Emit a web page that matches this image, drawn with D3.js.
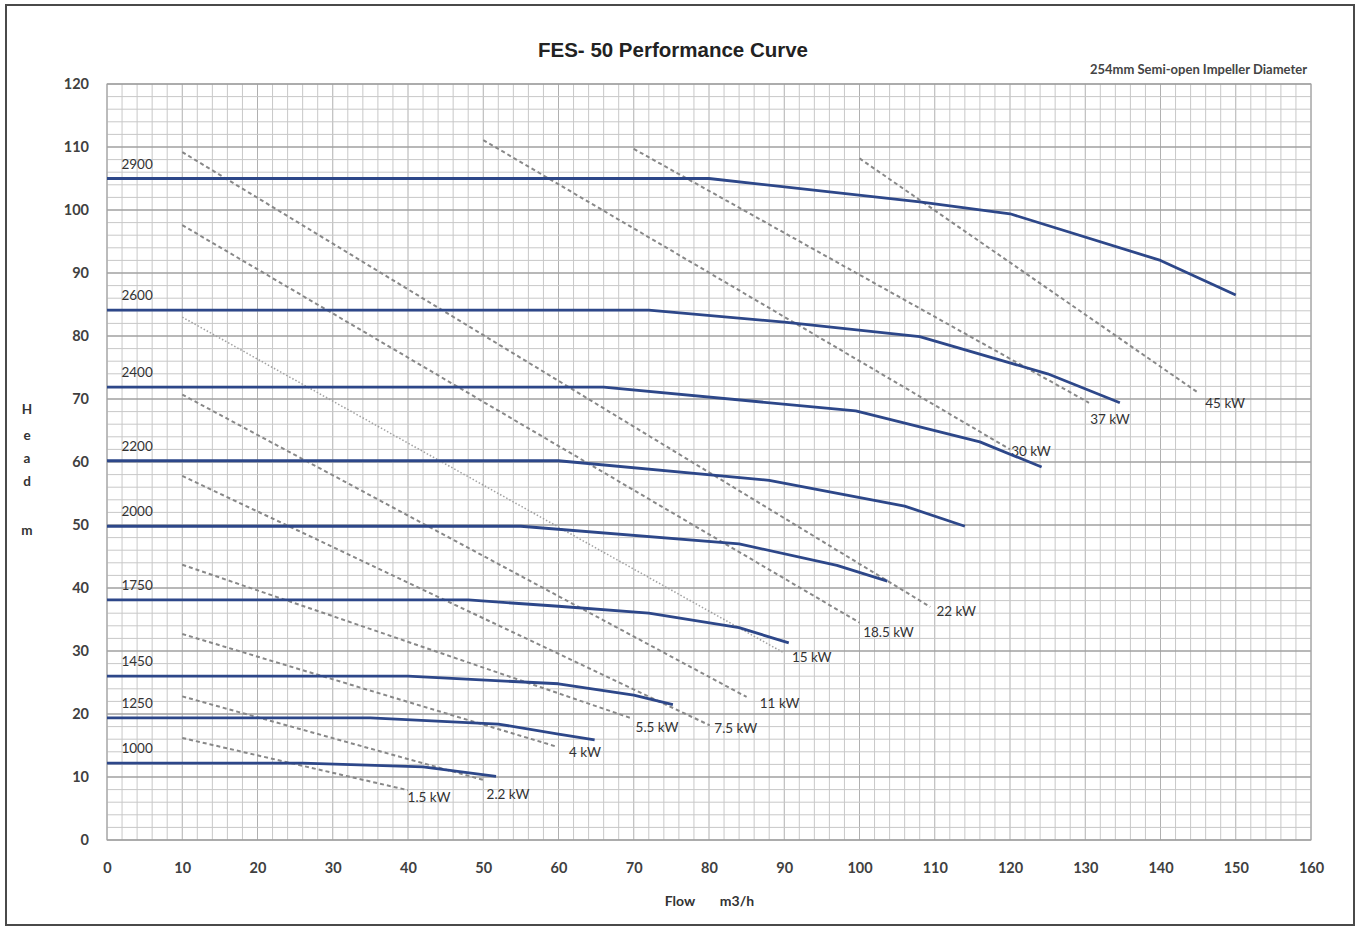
<!DOCTYPE html>
<html>
<head>
<meta charset="utf-8">
<script src="https://cdn.jsdelivr.net/npm/d3@7"></script>
<style>
  body { margin: 0; background: #fff; }
  svg { display: block; }
</style>
</head>
<body>
<svg id="chart"></svg>
<script>
const width = 1361
const height = 928

// speed curves (rpm) : [flow m3/h, head m]
const speeds = ["2900", "2600", "2400", "2200", "2000", "1750", "1450", "1250", "1000"]
const curve2900 = [[0, 105], [80, 105], [108, 101.3], [120, 99.4], [140, 92], [150, 86.5]]
const curve2600 = [[0, 84.1], [72, 84.1], [90, 82.2], [108, 79.9], [125, 74], [134.6, 69.4]]
const curve2400 = [[0, 71.9], [66, 71.9], [99.5, 68.1], [116, 63.2], [124.2, 59.2]]
const curve2200 = [[0, 60.2], [60, 60.2], [88, 57.1], [106, 53], [114, 49.8]]
const curve2000 = [[0, 49.8], [55, 49.8], [84, 47], [97, 43.6], [103.7, 41.1]]
const curve1750 = [[0, 38.1], [48, 38.1], [60, 37.1], [72, 36], [84, 33.7], [90.6, 31.3]]
const curve1450 = [[0, 26], [40, 26], [60, 24.8], [70, 23], [75.2, 21.5]]
const curve1250 = [[0, 19.4], [35, 19.4], [52, 18.4], [60, 16.8], [64.8, 15.9]]
const curve1000 = [[0, 12.2], [26, 12.2], [42, 11.6], [51.7, 10.1]]
const curves = [curve2900, curve2600, curve2400, curve2200, curve2000, curve1750, curve1450, curve1250, curve1000]

// power lines : start and end [flow, head]
const powers = ["1.5 kW", "2.2 kW", "4 kW", "5.5 kW", "7.5 kW", "11 kW", "15 kW", "18.5 kW", "22 kW", "30 kW", "37 kW", "45 kW"]
const powerStart = [[10, 16.2], [10, 22.8], [10, 32.7], [10, 43.7], [10, 57.8], [10, 70.7], [10, 83], [10, 97.6], [10, 109.2], [50, 111.1], [70, 109.7], [100, 108.2]]
const powerEnd = [[40, 7.9], [50.1, 9.5], [59.8, 14.8], [69.5, 19.4], [80.1, 18.2], [85, 22.7], [89.8, 29.8], [100, 34.5], [109.4, 37], [120, 62], [130.5, 69.4], [145, 71]]

const xTicks = d3.range(0, 161, 10)
const yTicks = d3.range(0, 121, 10)

const x = d3.scaleLinear().domain([0, 160]).range([107, 1311])
const y = d3.scaleLinear().domain([0, 120]).range([840, 84])

const svg = d3.select("#chart")
    .attr("width", width)
    .attr("height", height)

// outer frame
svg.append("rect")
    .attr("x", 6).attr("y", 5)
    .attr("width", 1348).attr("height", 920)
    .attr("fill", "#fff")
    .attr("stroke", "#4a4a4a")
    .attr("stroke-width", 2)

// grid: vertical
svg.append("g")
    .selectAll("line")
    .data(d3.range(0, 161, 2))
    .join("line")
        .attr("x1", d => x(d)).attr("x2", d => x(d))
        .attr("y1", y(0)).attr("y2", y(120))
        .attr("stroke", d => d % 10 === 0 ? "#b0b0b0" : "#c8c8c8")
        .attr("stroke-width", 1)

// grid: horizontal
svg.append("g")
    .selectAll("line")
    .data(d3.range(0, 121, 2))
    .join("line")
        .attr("x1", x(0)).attr("x2", x(160))
        .attr("y1", d => y(d)).attr("y2", d => y(d))
        .attr("stroke", d => d % 10 === 0 ? "#a0a0a0" : "#c8c8c8")
        .attr("stroke-width", d => d % 10 === 0 ? 1.5 : 1)

svg.append("rect")
    .attr("x", x(0)).attr("y", y(120))
    .attr("width", x(160) - x(0)).attr("height", y(0) - y(120))
    .attr("fill", "none")
    .attr("stroke", "#a0a0a0")

// axes (labels only)
const xAxis = svg.append("g")
    .attr("transform", `translate(0, ${y(0) + 20})`)
    .call(d3.axisBottom(x).tickValues(xTicks).tickSize(0).tickFormat(d3.format("d")))
xAxis.select(".domain").remove()

const yAxis = svg.append("g")
    .attr("transform", `translate(${x(0) - 15}, 0)`)
    .call(d3.axisLeft(y).tickValues(yTicks).tickSize(0).tickFormat(d3.format("d")))
yAxis.select(".domain").remove()

svg.selectAll(".tick text")
    .style("font-family", "Lato, 'Open Sans', sans-serif")
    .style("font-weight", "700")
    .style("font-size", "14.5px")
    .attr("fill", "#404040")

// power lines
const powerIdx = d3.range(powers.length)
svg.append("g")
    .selectAll("line")
    .data(powerIdx)
    .join("line")
        .attr("x1", i => x(powerStart[i][0]))
        .attr("y1", i => y(powerStart[i][1]))
        .attr("x2", i => x(powerEnd[i][0]))
        .attr("y2", i => y(powerEnd[i][1]))
        .attr("stroke", i => powers[i] === "15 kW" ? "#a0a0a0" : "#888")
        .attr("stroke-width", i => powers[i] === "15 kW" ? 1.5 : 2)
        .attr("stroke-dasharray", i => powers[i] === "15 kW" ? "1.5,2" : "4,3")

// label nudges in px, from the end of each power line
const powerNudge = [[21, 7], [24, 14], [28, 5], [27, 9], [26, 3], [33, 6], [29, 5], [29, 9], [26, 4], [21, 2], [21, 16], [27, 10]]
svg.append("g")
    .selectAll("text")
    .data(powerIdx)
    .join("text")
        .attr("x", i => x(powerEnd[i][0]) + powerNudge[i][0])
        .attr("y", i => y(powerEnd[i][1]) + powerNudge[i][1] + 5)
        .attr("text-anchor", "middle")
        .style("font-family", "Lato, sans-serif")
        .style("font-size", "13.5px")
        .attr("fill", "#333")
        .text(i => powers[i])

// speed curves
const line = d3.line()
    .x(d => x(d[0]))
    .y(d => y(d[1]))

svg.append("g")
    .selectAll("path")
    .data(curves)
    .join("path")
        .attr("d", line)
        .attr("fill", "none")
        .attr("stroke", "#2d4789")
        .attr("stroke-width", 2.8)
        .attr("stroke-linejoin", "round")

svg.append("g")
    .selectAll("text")
    .data(speeds)
    .join("text")
        .attr("x", x(4))
        .attr("y", (d, i) => y(curves[i][0][1]) - 10)
        .attr("text-anchor", "middle")
        .style("font-family", "Lato, sans-serif")
        .style("font-size", "13.5px")
        .attr("fill", "#333")
        .text(d => d)

// titles
svg.append("text")
    .attr("x", 673).attr("y", 57)
    .attr("text-anchor", "middle")
    .style("font-family", "'Liberation Sans', Arial, sans-serif")
    .style("font-weight", "700")
    .style("font-size", "20.5px")
    .attr("fill", "#222")
    .text("FES- 50 Performance Curve")

svg.append("text")
    .attr("x", 1307).attr("y", 74)
    .attr("text-anchor", "end")
    .style("font-family", "Lato, sans-serif")
    .style("font-weight", "700")
    .style("font-size", "13px")
    .attr("fill", "#444")
    .text("254mm Semi-open Impeller Diameter")

svg.append("text")
    .attr("x", 680).attr("y", 906)
    .attr("text-anchor", "middle")
    .style("font-family", "Lato, sans-serif")
    .style("font-weight", "700")
    .style("font-size", "14px")
    .attr("fill", "#333")
    .text("Flow")

svg.append("text")
    .attr("x", 737).attr("y", 906)
    .attr("text-anchor", "middle")
    .style("font-family", "Lato, sans-serif")
    .style("font-weight", "700")
    .style("font-size", "14px")
    .attr("fill", "#333")
    .text("m3/h")

const headLetters = [["H", 414], ["e", 440], ["a", 463], ["d", 486], ["m", 535]]
svg.append("g")
    .selectAll("text")
    .data(headLetters)
    .join("text")
        .attr("x", 27)
        .attr("y", d => d[1])
        .attr("text-anchor", "middle")
        .style("font-family", "Lato, sans-serif")
        .style("font-weight", "700")
        .style("font-size", "13.5px")
        .attr("fill", "#333")
        .text(d => d[0])
</script>
</body>
</html>
